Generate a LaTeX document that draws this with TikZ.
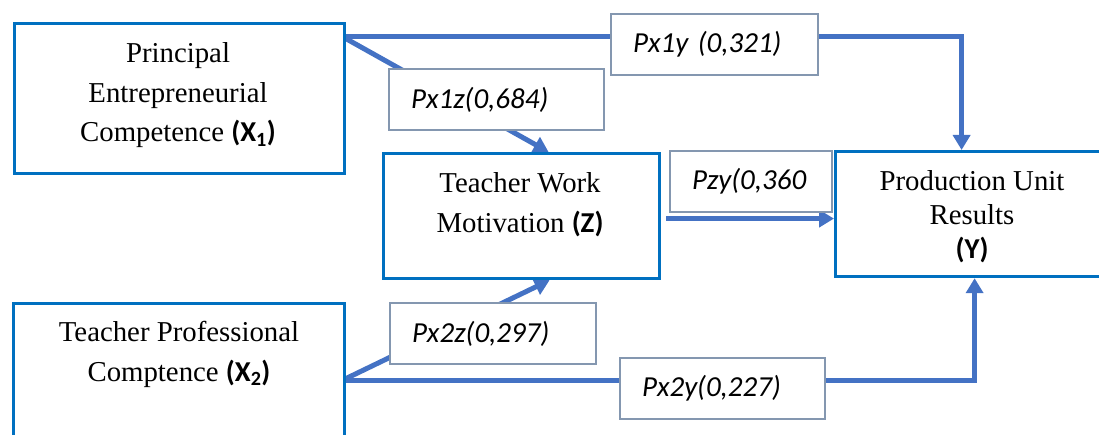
\documentclass[tikz,border=0pt]{standalone}
\usepackage{fontspec}
\setmainfont{Liberation Serif}
\newfontfamily\calfont{Carlito}
\usetikzlibrary{arrows.meta,calc}
\definecolor{boxblue}{RGB}{0,112,192}
\definecolor{linkblue}{RGB}{68,114,196}
\definecolor{labgray}{RGB}{132,151,176}
\pgfdeclarelayer{bg}
\pgfsetlayers{bg,main}
\newcommand{\vb}[1]{{\calfont\bfseries #1}}
\begin{document}
\begin{tikzpicture}[x=1pt,y=-1pt,
  varbox/.style={draw=boxblue,line width=3.2pt,fill=white,inner sep=0pt,anchor=north west},
  vartext/.style={align=center,inner sep=0pt,font=\fontsize{28.8}{39.5}\selectfont},
  labbox/.style={draw=labgray,line width=2pt,fill=white,inner ysep=0pt,inner xsep=22pt,
    minimum height=61pt,anchor=north west,align=left,text width=#1,
    font=\calfont\itshape\fontsize{29}{34}\selectfont},
  link/.style={draw=linkblue,line width=5pt,line join=miter},
  linkarrow/.style={link,-{Triangle[length=15pt,width=17pt]}}]
\useasboundingbox (0,0) rectangle (1099,435);
\clip (0,0) rectangle (1099,435);
% variable boxes
\node[varbox,minimum width=330pt,minimum height=150pt] (x1) at (13,22) {};
\node[varbox,minimum width=276pt,minimum height=125pt] (z) at (382,152) {};
\node[varbox,minimum width=276pt,minimum height=125pt] (y) at (834,150) {};
\node[varbox,minimum width=331pt,minimum height=150pt] (x2) at (12,302) {};
% texts
\node[vartext] (x1t) at (178,95.5) {Principal\\Entrepreneurial\\Competence \vb{(X\textsubscript{1})}};
\node[vartext] (zt) at (520,204.5) {Teacher Work\\Motivation \vb{(Z)}};
\node[vartext,font=\fontsize{28.8}{34}\selectfont] (yt) at (972,216.5) {Production Unit\\Results\\\vb{(Y)}};
\node[vartext] (x2t) at (179,354.5) {Teacher Professional\\Comptence \vb{(X\textsubscript{2})}};
% label boxes
\node[labbox=163pt] (l1y) at (610,13) {Px1y (0,321)};
\node[labbox=171pt] (l1z) at (388,68) {Px1z(0,684)};
\node[labbox=118pt] (lzy) at (669,150) {Pzy(0,360};
\node[labbox=162pt] (l2z) at (389,302) {Px2z(0,297)};
\node[labbox=161pt] (l2y) at (619,357) {Px2y(0,227)};
% connectors
\coordinate (x1o) at (343,37);
\coordinate (x2o) at (343,380);
\coordinate (zo) at ($(z.east)+(5pt,-2.5pt)$);
\begin{pgfonlayer}{bg}
\draw[linkarrow] (x1o) -| ([xshift=-12pt]y.north);
\draw[linkarrow] (x1o) -- ([xshift=27pt]z.north);
\draw[linkarrow] (zo) -- (zo -| y.west);
\draw[linkarrow] (x2o) -| ([xshift=1pt]y.south);
\draw[linkarrow] (x2o) -- ([xshift=28pt]z.south);
\end{pgfonlayer}
\end{tikzpicture}
\end{document}
